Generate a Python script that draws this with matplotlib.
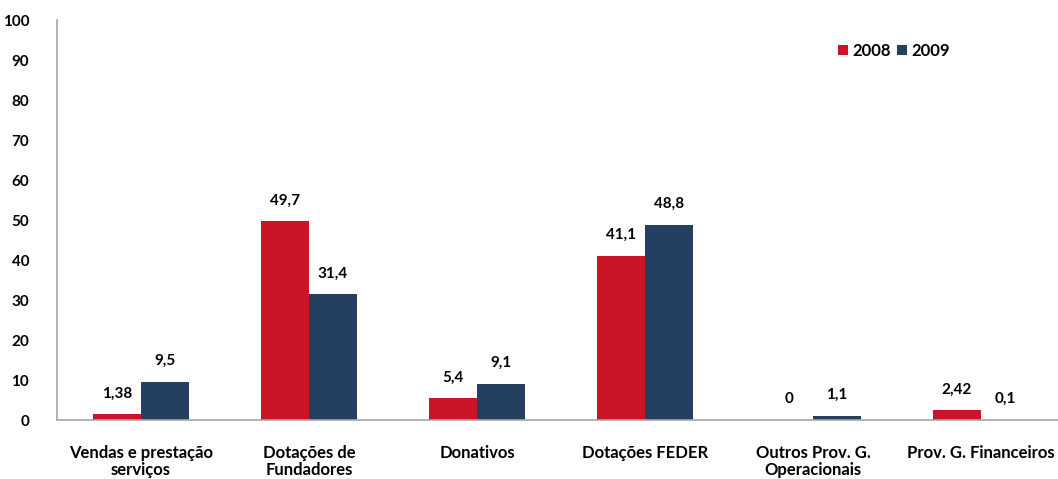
import numpy as np
import matplotlib
matplotlib.use("Agg")
import matplotlib.pyplot as plt

plt.rcParams['font.family'] = ['Lato', 'DejaVu Sans']
plt.rcParams['font.weight'] = 'bold'

# dados
categorias = ['Vendas e prestação\nserviços', 'Dotações de\nFundadores', 'Donativos',
              'Dotações FEDER', 'Outros Prov. G.\nOperacionais', 'Prov. G. Financeiros']
v2008 = [1.38, 49.7, 5.4, 41.1, 0, 2.42]
v2009 = [9.5, 31.4, 9.1, 48.8, 1.1, 0.1]
rot2008 = ['1,38', '49,7', '5,4', '41,1', '0', '2,42']
rot2009 = ['9,5', '31,4', '9,1', '48,8', '1,1', '0,1']
yticks = [0, 10, 20, 30, 40, 50, 60, 70, 80, 90, 100]

cor_2008 = '#CC1429'
cor_2009 = '#243F60'

fig = plt.figure(figsize=(10.58, 4.79), dpi=100)
ax = fig.add_axes([57 / 1058, 59 / 479, 1008 / 1058, 400 / 479])

x = np.arange(len(categorias))
w = 1 / 3.5
b1 = ax.bar(x - w / 2, v2008, w, color=cor_2008, label='2008')
b2 = ax.bar(x + w / 2, v2009, w, color=cor_2009, label='2009')

for barras, rots in [(b1, rot2008), (b2, rot2009)]:
    for b, r in zip(barras, rots):
        ax.annotate(r, (b.get_x() + b.get_width() / 2, b.get_height()),
                    xytext=(0, 10), textcoords='offset points',
                    ha='center', va='bottom', fontsize=11, fontweight='bold')

ax.set_xlim(-0.5, len(categorias) - 0.5)
ax.set_ylim(0, 100)
ax.set_yticks(yticks)
ax.set_xticks(x)
ax.set_xticklabels(categorias, fontsize=12, fontweight='bold', linespacing=1.05)
ax.tick_params(axis='y', length=0, pad=20, labelsize=11)
ax.tick_params(axis='x', length=0, pad=18)

for s in ['top', 'right']:
    ax.spines[s].set_visible(False)
for s in ['left', 'bottom']:
    ax.spines[s].set_color('#A6A6A6')
    ax.spines[s].set_linewidth(1.2)

ax.legend(loc='upper left', bbox_to_anchor=(0.76, 0.98), ncol=2, frameon=False,
          handlelength=0.6, handleheight=0.6, handletextpad=0.25, columnspacing=0.4,
          prop={'size': 12, 'weight': 'bold'})

fig.savefig('out.png', dpi=100)
